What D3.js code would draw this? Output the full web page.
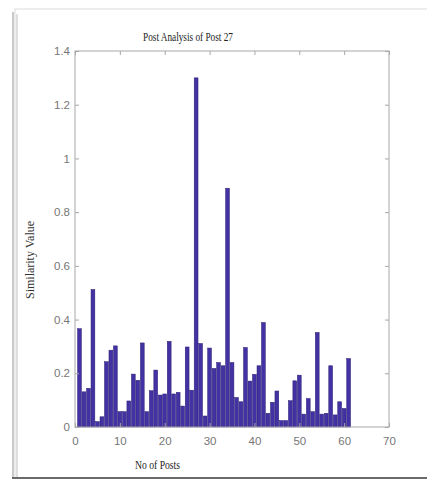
<!DOCTYPE html>
<html>
<head>
<meta charset="utf-8">
<script src="https://cdn.jsdelivr.net/npm/d3@7"></script>
<style>
  body { margin: 0; background: #fff; }
  .tick text { font-family: "Liberation Sans", Arial, sans-serif; font-size: 11.5px; fill: #767676; }
</style>
</head>
<body>
<svg id="chart" width="427" height="481"></svg>
<script>
// similarity of each post to post 27
var similarity = [0.366, 0.131, 0.144, 0.512, 0.02, 0.038, 0.243, 0.286, 0.302, 0.057,
                  0.057, 0.097, 0.197, 0.174, 0.313, 0.057, 0.135, 0.212, 0.119, 0.123,
                  0.319, 0.123, 0.129, 0.078, 0.298, 0.137, 1.30, 0.311, 0.041, 0.294,
                  0.218, 0.24, 0.228, 0.889, 0.24, 0.11, 0.094, 0.296, 0.171, 0.196,
                  0.228, 0.389, 0.051, 0.092, 0.134, 0.024, 0.024, 0.098, 0.172, 0.193,
                  0.048, 0.106, 0.057, 0.352, 0.048, 0.051, 0.228, 0.045, 0.094, 0.069,
                  0.255];
var post_numbers = similarity.map(function(d, i) { return i + 1; });
var x_ticks = [0, 10, 20, 30, 40, 50, 60, 70];
var y_ticks = [0, 0.2, 0.4, 0.6, 0.8, 1, 1.2, 1.4];

function draw_chart(){
    var svg = d3.select("#chart");
    svg.selectAll("*").remove();

    // picture frame with shadow
    svg.append("rect").attr("x", 15).attr("y", 9).attr("width", 420).attr("height", 469)
        .attr("fill", "#fff").attr("stroke", "#dcdcdc").attr("stroke-width", 1);
    svg.append("line").attr("x1", 13).attr("x2", 13).attr("y1", 12).attr("y2", 478)
        .attr("stroke", "#b8b8b8").attr("stroke-width", 1.5);
    svg.append("line").attr("x1", 17).attr("x2", 17).attr("y1", 14).attr("y2", 478)
        .attr("stroke", "#c8c8c8").attr("stroke-width", 1.2);
    svg.append("line").attr("x1", 12).attr("x2", 427).attr("y1", 478).attr("y2", 478)
        .attr("stroke", "#6a6a6a").attr("stroke-width", 2);

    var x = d3.scaleLinear().domain([0, 70]).range([75, 389]);
    var y = d3.scaleLinear().domain([0, 1.4]).range([427, 51]);

    var g = svg.append("g");

    // bars
    var bw = (x(1) - x(0)) * 0.85;
    g.selectAll("rect.bar")
        .data(similarity)
        .enter().append("rect")
        .attr("class", "bar")
        .attr("x", function(d, i) { return x(post_numbers[i]) - bw / 2; })
        .attr("y", function(d) { return y(d); })
        .attr("width", bw)
        .attr("height", function(d) { return y(0) - y(d); })
        .attr("fill", "#4232a4")
        .attr("stroke", "#2a1f70")
        .attr("stroke-width", 0.5);

    // axes (MATLAB style box, ticks inward)
    var axis_col = "#a8a8a8";
    var xb = g.append("g").attr("transform", "translate(0,427)")
        .call(d3.axisBottom(x).tickValues(x_ticks).tickSizeInner(-4).tickSizeOuter(0).tickPadding(10));
    var yl = g.append("g").attr("transform", "translate(75,0)")
        .call(d3.axisLeft(y).tickValues(y_ticks).tickFormat(d3.format("~g")).tickSizeInner(-4).tickSizeOuter(0).tickPadding(5));
    var xt = g.append("g").attr("transform", "translate(0,51)")
        .call(d3.axisTop(x).tickValues(x_ticks).tickFormat("").tickSizeInner(-4).tickSizeOuter(0));
    var yr = g.append("g").attr("transform", "translate(389,0)")
        .call(d3.axisRight(y).tickValues(y_ticks).tickFormat("").tickSizeInner(-4).tickSizeOuter(0));
    [xb, yl, xt, yr].forEach(function(a){
        a.select(".domain").remove();
        a.selectAll("line").attr("stroke", axis_col);
    });
    g.append("rect").attr("x", 75).attr("y", 51).attr("width", 314).attr("height", 376)
        .attr("fill", "none").attr("stroke", axis_col).attr("stroke-width", 1);

    // labels
    svg.append("text").attr("x", 143).attr("y", 41)
        .attr("textLength", 90).attr("lengthAdjust", "spacingAndGlyphs")
        .style("font-family", "'Liberation Serif', 'Times New Roman', serif")
        .style("font-size", "12px").style("fill", "#222")
        .text("Post Analysis of Post 27");
    svg.append("text").attr("x", 135).attr("y", 469)
        .attr("textLength", 45).attr("lengthAdjust", "spacingAndGlyphs")
        .style("font-family", "'Liberation Serif', 'Times New Roman', serif")
        .style("font-size", "12px").style("fill", "#222")
        .text("No of Posts");
    svg.append("text")
        .attr("transform", "translate(34,260) rotate(-90)")
        .attr("text-anchor", "middle")
        .style("font-family", "'Liberation Serif', 'Times New Roman', serif")
        .style("font-size", "12px").style("fill", "#333")
        .text("Similarity Value");
}

draw_chart();
</script>
</body>
</html>
